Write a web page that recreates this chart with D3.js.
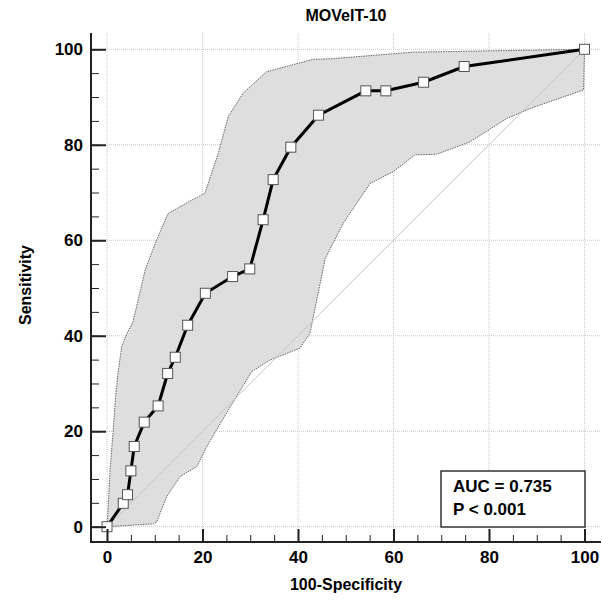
<!DOCTYPE html>
<html>
<head>
<meta charset="utf-8">
<script src="https://cdn.jsdelivr.net/npm/d3@7"></script>
<style>
  body { margin: 0; background: #fff; }
  text { font-family: Arial, "Liberation Sans", sans-serif; font-weight: bold; }
</style>
</head>
<body>
<div id="chart"></div>
<script>
// ROC points (100-specificity, sensitivity)
var rocX = [0, 3.4, 4.3, 5.0, 5.7, 7.8, 10.7, 12.7, 14.3, 16.9, 20.6, 26.3, 29.9, 32.7, 34.8, 38.5, 44.3, 54.2, 58.4, 66.3, 74.8, 100];
var rocY = [0, 4.9, 6.7, 11.7, 16.8, 21.9, 25.3, 32.1, 35.5, 42.2, 48.9, 52.4, 54.0, 64.3, 72.7, 79.5, 86.2, 91.3, 91.3, 93.1, 96.4, 100];

// confidence band, upper edge
var upperX = [0, 0.3, 0.6, 1.3, 1.8, 2.4, 3.1, 4.2, 5.4, 6.2, 8.0, 10.4, 12.8, 17.7, 20.5, 23.3, 25.4, 28.5, 33.4, 43.2, 46.7, 64.1, 100];
var upperY = [0, 4.9, 11.2, 20.3, 27.3, 32.9, 37.8, 40.5, 42.8, 46.1, 53.8, 60.1, 65.6, 68.4, 69.8, 78.2, 85.9, 90.8, 95.3, 97.9, 98.0, 99.4, 100];

// confidence band, lower edge
var lowerX = [0, 9.7, 10.4, 12.5, 15.3, 18.8, 20.9, 25.8, 30.3, 34.1, 40.4, 42.5, 45.7, 49.5, 55.1, 60.0, 64.5, 69.0, 76.0, 83.7, 88.6, 99.8, 100];
var lowerY = [0, 0.6, 1.0, 6.3, 10.5, 12.6, 16.8, 25.1, 32.5, 34.9, 37.4, 40.5, 56.2, 63.6, 71.9, 74.4, 77.9, 78.0, 80.6, 85.5, 87.6, 91.5, 100];

var majorTicks = [0, 20, 40, 60, 80, 100];
var minorTicks = d3.range(0, 101, 5);

var w = 602, h = 600;
var axisX = 91, axisY = 542;

var x = d3.scaleLinear().domain([0, 100]).range([107, 584.5]);
var y = d3.scaleLinear().domain([0, 100]).range([526.7, 49.3]);

var svg = d3.select("#chart")
    .append("svg")
    .attr("width", w)
    .attr("height", h);

// grid lines
svg.selectAll(".vgrid")
    .data(majorTicks)
    .enter()
    .append("line")
    .attr("x1", function (d) { return x(d); })
    .attr("x2", function (d) { return x(d); })
    .attr("y1", 33)
    .attr("y2", axisY)
    .style("stroke", "#c8c8c8")
    .style("stroke-width", 1)
    .style("stroke-dasharray", "1,1");

svg.selectAll(".hgrid")
    .data(majorTicks)
    .enter()
    .append("line")
    .attr("x1", axisX)
    .attr("x2", 600)
    .attr("y1", function (d) { return y(d); })
    .attr("y2", function (d) { return y(d); })
    .style("stroke", "#c8c8c8")
    .style("stroke-width", 1)
    .style("stroke-dasharray", "1,1");

// confidence band polygon: upper edge then lower edge reversed
var band = [];
for (var i = 0; i < upperX.length; i++) {
    band.push([upperX[i], upperY[i]]);
}
for (var j = lowerX.length - 1; j >= 0; j--) {
    band.push([lowerX[j], lowerY[j]]);
}

var line = d3.line()
    .x(function (d) { return x(d[0]); })
    .y(function (d) { return y(d[1]); });

svg.append("path")
    .attr("d", line(band) + "Z")
    .style("fill", "#dedede")
    .style("stroke", "#666")
    .style("stroke-width", 1)
    .style("stroke-dasharray", "1.5,1");

// reference diagonal
svg.append("line")
    .attr("x1", x(0))
    .attr("y1", y(0))
    .attr("x2", x(100))
    .attr("y2", y(100))
    .style("stroke", "#c4c4c4")
    .style("stroke-width", 1);

// ROC curve
var roc = rocX.map(function (d, i) { return [d, rocY[i]]; });

svg.append("path")
    .attr("d", line(roc))
    .style("fill", "none")
    .style("stroke", "#000")
    .style("stroke-width", 3);

svg.selectAll(".pt")
    .data(roc)
    .enter()
    .append("rect")
    .attr("x", function (d) { return x(d[0]) - 5; })
    .attr("y", function (d) { return y(d[1]) - 5; })
    .attr("width", 10)
    .attr("height", 10)
    .style("fill", "#fff")
    .style("stroke", "#555")
    .style("stroke-width", 1);

// axes: major ticks with labels, minor ticks without
var yAxis = d3.axisLeft(y).tickValues(majorTicks).tickSize(-15).tickSizeOuter(0).tickPadding(8);
var yMinor = d3.axisLeft(y).tickValues(minorTicks).tickSize(-8).tickSizeOuter(0).tickFormat("");
var xAxis = d3.axisBottom(x).tickValues(majorTicks).tickSize(-13).tickSizeOuter(0).tickPadding(9);
var xMinor = d3.axisBottom(x).tickValues(minorTicks).tickSize(-7).tickSizeOuter(0).tickFormat("");

function styleAxis(g) {
    g.select(".domain").remove();
    g.selectAll("line").style("stroke", "#222").style("stroke-width", 1);
    g.selectAll("text")
        .style("font-size", "17px")
        .style("font-family", "Arial, 'Liberation Sans', sans-serif")
        .style("font-weight", "bold")
        .style("fill", "#000");
}

svg.append("g").attr("transform", "translate(" + axisX + ",0)").call(yMinor).call(styleAxis);
svg.append("g").attr("transform", "translate(" + axisX + ",0)").call(yAxis).call(styleAxis)
    .selectAll("line").style("stroke-width", 2);
svg.append("g").attr("transform", "translate(0," + axisY + ")").call(xMinor).call(styleAxis);
svg.append("g").attr("transform", "translate(0," + axisY + ")").call(xAxis).call(styleAxis)
    .selectAll("line").style("stroke-width", 2);

// axis lines
svg.append("line")
    .attr("x1", axisX).attr("x2", axisX)
    .attr("y1", 33).attr("y2", axisY + 1)
    .style("stroke", "#222").style("stroke-width", 2);
svg.append("line")
    .attr("x1", axisX - 1).attr("x2", 601)
    .attr("y1", axisY).attr("y2", axisY)
    .style("stroke", "#222").style("stroke-width", 2);

// titles
svg.append("text")
    .attr("x", 346)
    .attr("y", 21)
    .attr("text-anchor", "middle")
    .style("font-size", "16px")
    .text("MOVeIT-10");

svg.append("text")
    .attr("x", 346)
    .attr("y", 590)
    .attr("text-anchor", "middle")
    .style("font-size", "16px")
    .text("100-Specificity");

svg.append("text")
    .attr("transform", "translate(31,285) rotate(-90)")
    .attr("text-anchor", "middle")
    .style("font-size", "16px")
    .text("Sensitivity");

// AUC box
svg.append("rect")
    .attr("x", 441)
    .attr("y", 471)
    .attr("width", 144)
    .attr("height", 56)
    .style("fill", "#fff")
    .style("stroke", "#333")
    .style("stroke-width", 1.5);

svg.append("text")
    .attr("x", 453)
    .attr("y", 492)
    .style("font-size", "17px")
    .text("AUC = 0.735");

svg.append("text")
    .attr("x", 453)
    .attr("y", 515)
    .style("font-size", "17px")
    .text("P < 0.001");
</script>
</body>
</html>
